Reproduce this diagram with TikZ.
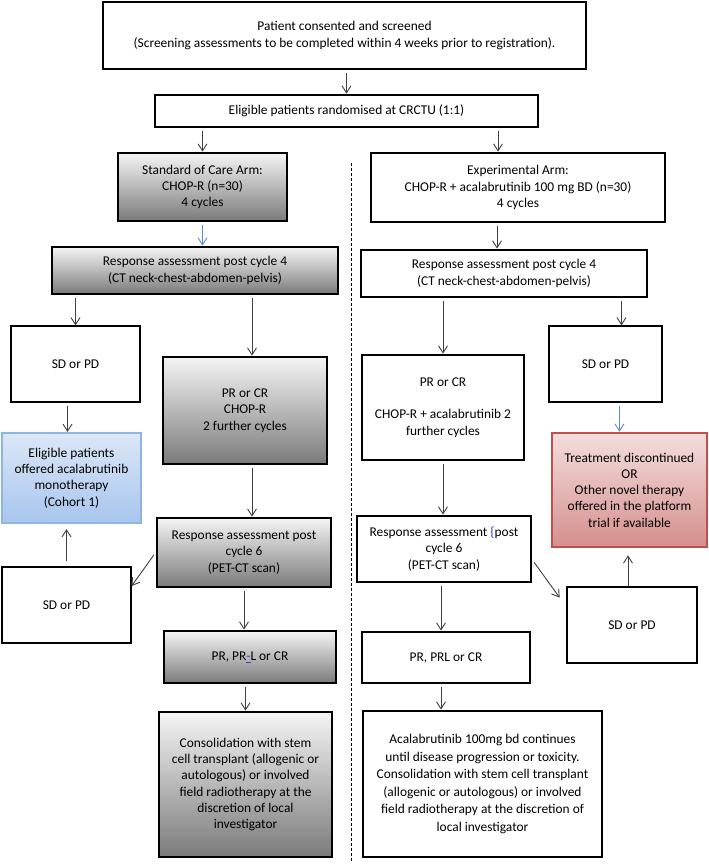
\documentclass[tikz,border=0pt]{standalone}
\usepackage{fontspec}
\setmainfont{Carlito}
\usetikzlibrary{arrows.meta}

\definecolor{arrowgray}{HTML}{404040}
\definecolor{arrowblue}{HTML}{5B8CC8}
\definecolor{cohortedge}{HTML}{8EB4E3}
\definecolor{cohorttop}{HTML}{DCE7F7}
\definecolor{cohortbot}{HTML}{A7C5EE}
\definecolor{stopedge}{HTML}{C0504D}
\definecolor{stoptop}{HTML}{F3DEDD}
\definecolor{stopbot}{HTML}{D58F8D}
\definecolor{notemark}{HTML}{3333DD}

\begin{document}
\begin{tikzpicture}[x=1pt, y=-1pt, >={Straight Barb[length=7pt,width=9pt]},
    every node/.style={font=\fontsize{13.4}{16.3}\selectfont, align=center, inner sep=2pt},
    plainbox/.style={draw, line width=2.8pt, fill=white},
    greybox/.style={draw, line width=2.8pt, top color=black!4, bottom color=black!52},
    thinbox/.style={draw, line width=1.2pt, fill=white},
    cohortbox/.style={draw=cohortedge, line width=2.2pt, top color=cohorttop, bottom color=cohortbot},
    redbox/.style={draw=stopedge, line width=2.6pt, top color=stoptop, bottom color=stopbot},
    arr/.style={->, draw=arrowgray, line width=0.9pt, shorten <=3pt},
    bluearr/.style={arr, draw=arrowblue}]
    \useasboundingbox (0,0) rectangle (709,868);

    % top of the flow
    \node[plainbox, minimum width=483pt, minimum height=67pt] (consent) at (344.5,35.5)
        {Patient consented and screened\\(Screening assessments to be completed within 4 weeks prior to registration).};
    \node[plainbox, minimum width=383pt, minimum height=32pt] (random) at (346.5,111)
        {Eligible patients randomised at CRCTU (1:1)};
    \draw[densely dashed, line width=0.8pt] (351,163) -- (351,862);

    % standard of care arm
    \node[greybox, minimum width=169pt, minimum height=68pt] (socarm) at (202.5,187)
        {Standard of Care Arm:\\CHOP-R (n=30)\\4 cycles};
    \node[greybox, minimum width=286pt, minimum height=47pt] (respL) at (195,270.5)
        {Response assessment post cycle 4\\(CT neck-chest-abdomen-pelvis)};
    \node[thinbox, minimum width=129pt, minimum height=76pt] (sdL) at (75.5,364) {SD or PD};
    \node[greybox, minimum width=164pt, minimum height=107pt] (prcrL) at (245,410.5)
        {PR or CR\\CHOP-R\\2 further cycles};
    \node[cohortbox, minimum width=139pt, minimum height=90pt] (cohort) at (71.5,478)
        {Eligible patients\\offered acalabrutinib\\monotherapy\\(Cohort 1)};
    \node[greybox, minimum width=174pt, minimum height=69pt] (respsixL) at (244,552.5)
        {Response assessment post\\cycle 6\\(PET-CT scan)};
    \node[thinbox, minimum width=129pt, minimum height=76pt] (sdtwoL) at (66.5,605) {SD or PD};
    \node[greybox, minimum width=172pt, minimum height=52pt] (prlL) at (250,657)
        {PR, PR\textcolor{notemark}{\underline{-}}L or CR};
    \node[greybox, minimum width=173pt, minimum height=145pt] (consL) at (245.5,784.5)
        {Consolidation with stem\\cell transplant (allogenic or\\autologous) or involved\\field radiotherapy at the\\discretion of local\\investigator};

    % experimental arm
    \node[plainbox, minimum width=294pt, minimum height=69pt] (exparm) at (518,187.5)
        {Experimental Arm:\\CHOP-R + acalabrutinib 100 mg BD (n=30)\\4 cycles};
    \node[plainbox, minimum width=286pt, minimum height=47pt] (respR) at (504,273.5)
        {Response assessment post cycle 4\\(CT neck-chest-abdomen-pelvis)};
    \node[plainbox, minimum width=162pt, minimum height=105pt] (prcrR) at (443,407.5)
        {PR or CR\\[16pt]CHOP-R + acalabrutinib 2\\further cycles};
    \node[thinbox, minimum width=113pt, minimum height=76pt] (sdR) at (605.5,364) {SD or PD};
    \node[redbox, minimum width=155pt, minimum height=114pt] (stopped) at (629.5,490)
        {Treatment discontinued\\OR\\Other novel therapy\\offered in the platform\\trial if available};
    \node[plainbox, minimum width=174pt, minimum height=66pt] (respsixR) at (444,549)
        {Response assessment {\color{notemark}\{}post\\cycle 6\\(PET-CT scan)};
    \node[thinbox, minimum width=130pt, minimum height=76pt] (sdtwoR) at (632,625) {SD or PD};
    \node[plainbox, minimum width=168pt, minimum height=51pt] (prlR) at (446,657.5) {PR, PRL or CR};
    \node[plainbox, minimum width=239pt, minimum height=146pt, font=\fontsize{13.4}{17.5}\selectfont] (acal) at (482.5,784)
        {Acalabrutinib 100mg bd continues\\until disease progression or toxicity.\\Consolidation with stem cell transplant\\(allogenic or autologous) or involved\\field radiotherapy at the discretion of\\local investigator};

    % connectors
    \draw[arr] (consent.south -| random.north) -- (random.north);
    \draw[arr] (random.south -| socarm.north) -- (socarm.north);
    \draw[arr] ([xshift=-20pt]exparm.north |- random.south) -- ([xshift=-20pt]exparm.north);
    \draw[bluearr] (socarm.south) -- (socarm.south |- respL.north);
    \draw[arr] ([xshift=-7pt]respR.north |- exparm.south) -- ([xshift=-7pt]respR.north);

    \draw[arr] (respL.south -| sdL.north) -- (sdL.north);
    \draw[arr] ([xshift=7pt]prcrL.north |- respL.south) -- ([xshift=7pt]prcrL.north);
    \draw[arr] ([xshift=-4pt]cohort.north |- sdL.south) -- ([xshift=-4pt]cohort.north);
    \draw[arr] ([xshift=8pt]respsixL.north |- prcrL.south) -- ([xshift=8pt]respsixL.north);
    \draw[arr] (respsixL.west) -- ([yshift=19pt]sdtwoL.east);
    \draw[arr, shorten <=5pt, shorten >=5pt] (sdtwoL.north) -- (sdtwoL.north |- cohort.south);
    \draw[arr] (respsixL.south) -- (respsixL.south |- prlL.north);
    \draw[arr] (prlL.south -| consL.north) -- (consL.north);

    \draw[arr] (respR.south -| prcrR.north) -- (prcrR.north);
    \draw[arr] ([xshift=16pt]sdR.north |- respR.south) -- ([xshift=16pt]sdR.north);
    \draw[bluearr] ([xshift=-10pt]stopped.north |- sdR.south) -- ([xshift=-10pt]stopped.north);
    \draw[arr] (prcrR.south) -- (prcrR.south |- respsixR.north);
    \draw[arr, shorten >=3pt] ([yshift=-11pt]respsixR.east) -- ([xshift=-5pt,yshift=25pt]sdtwoR.west);
    \draw[arr, shorten <=0pt, shorten >=7pt] ([xshift=-4pt]sdtwoR.north) -- ([xshift=-4pt]sdtwoR.north |- stopped.south);
    \draw[arr] ([xshift=-3pt]respsixR.south) -- ([xshift=-3pt]respsixR.south |- prlR.north);
    \draw[arr] ([xshift=-5pt]prlR.south) -- ([xshift=-5pt]prlR.south |- acal.north);
\end{tikzpicture}
\end{document}
